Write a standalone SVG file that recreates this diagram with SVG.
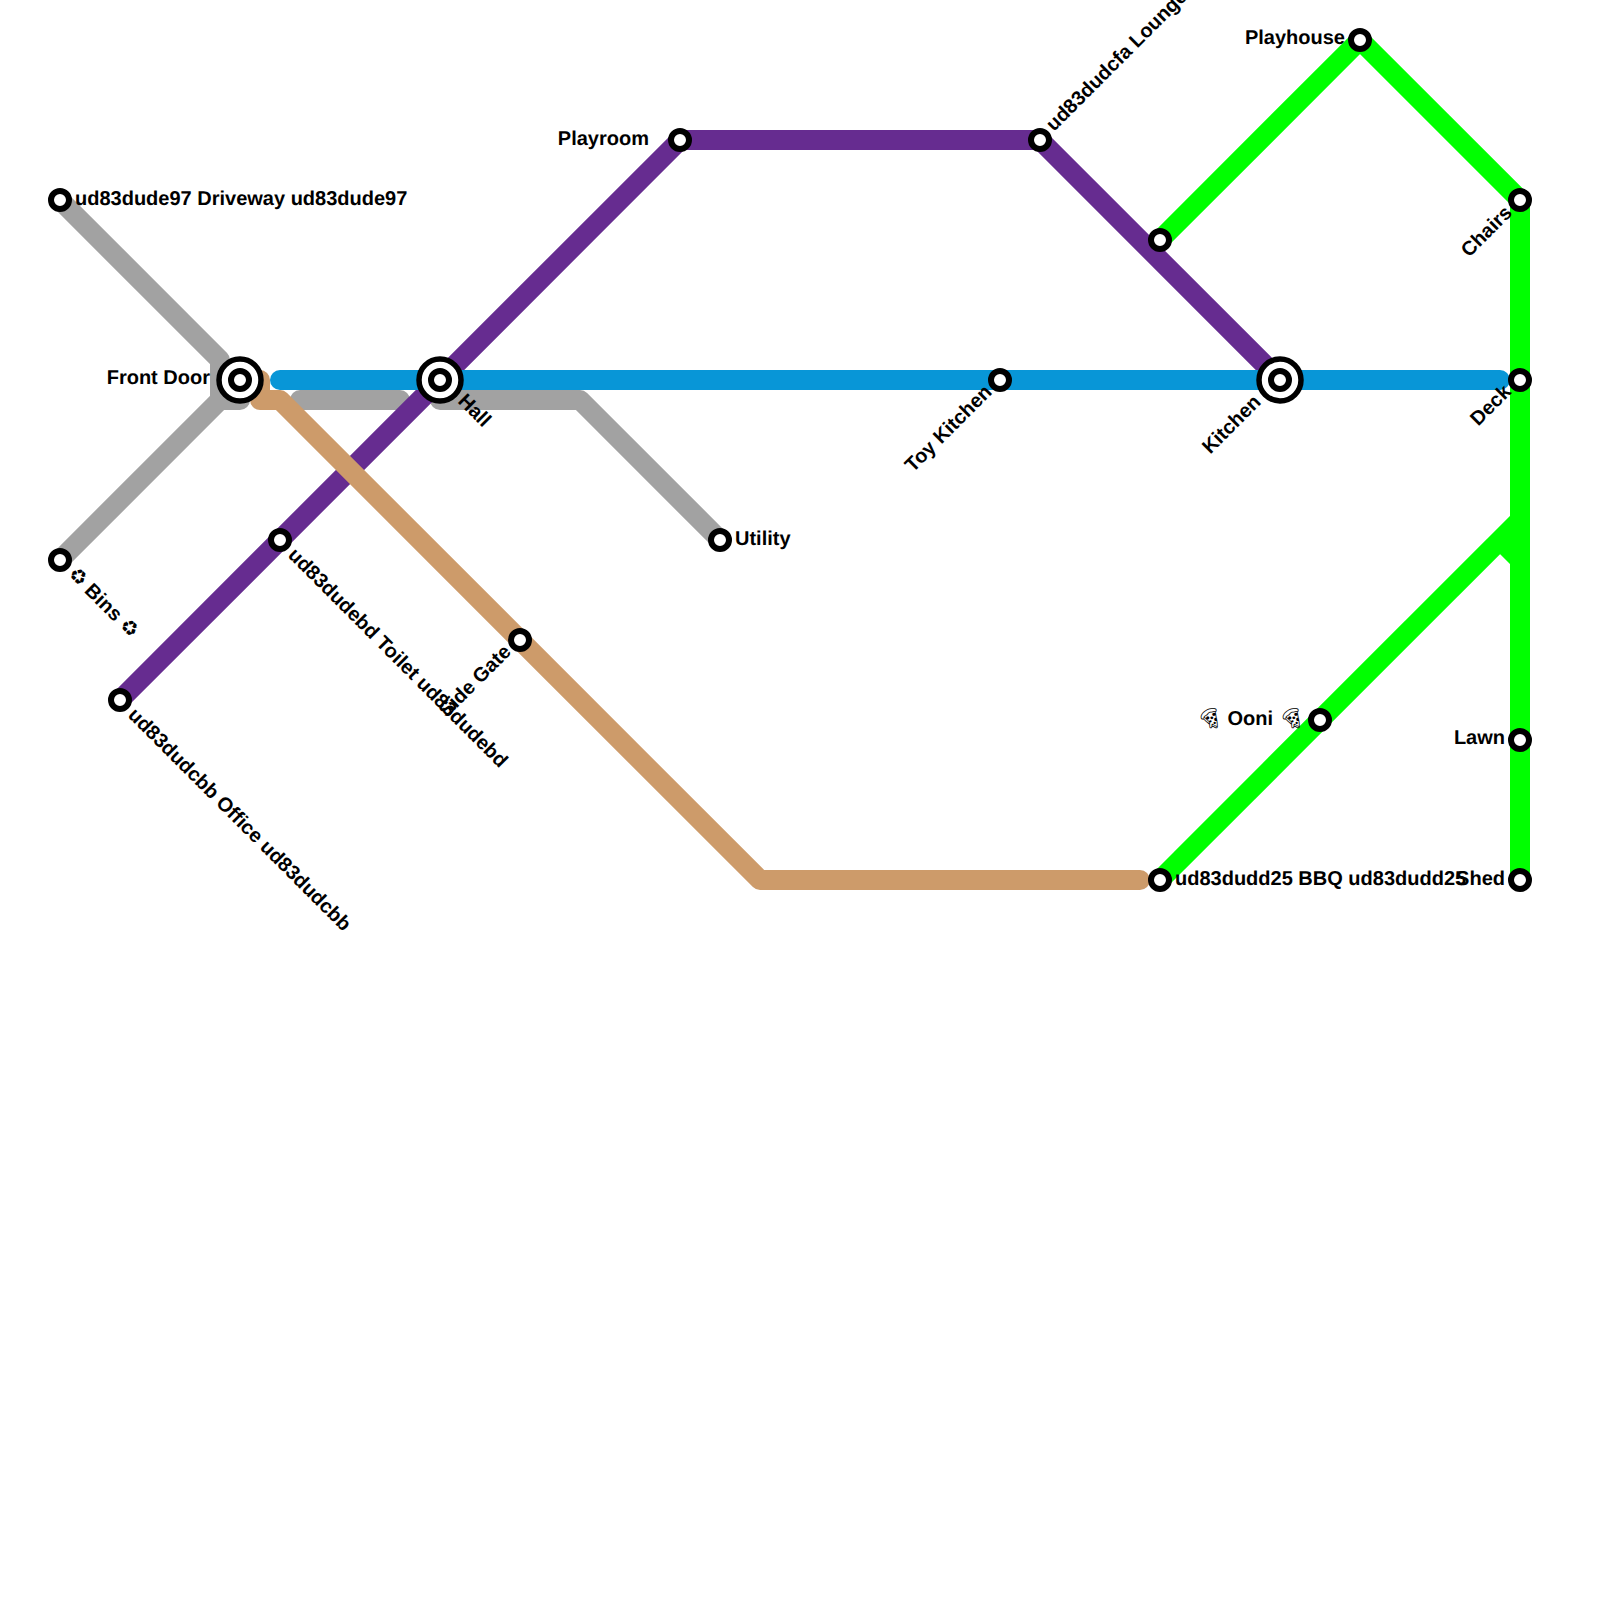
<svg xmlns="http://www.w3.org/2000/svg" width="1600" height="1600" viewBox="0 0 1600 1600">
<style>
.l{fill:none;stroke-width:20;stroke-linecap:round;stroke-linejoin:round}
.gray{stroke:#a2a2a2}.tan{stroke:#cd9b6a}.purple{stroke:#662c90}.blue{stroke:#0896d7}.green{stroke:#00ff00;stroke-linecap:butt}
.s{fill:#fff;stroke:#000;stroke-width:6}
.o{fill:#fff;stroke:#000;stroke-width:5.5}
text{font-family:"Liberation Sans",Arial,sans-serif;font-weight:700;font-size:20px;fill:#000;text-rendering:geometricPrecision}
.e{text-anchor:end}
.m{font-weight:400}
</style>
<rect width="1600" height="1600" fill="#fff"/>
<g id="connectors">
<path class="l gray" d="M60 200L220 360V400L60 560M220 400H240"/>
<path class="l gray" d="M300 400H400"/>
<path class="l gray" d="M440 400H580L720 540"/>
<path class="l purple" d="M120 700L680 140H1040L1280 380"/>
<path class="l tan" d="M260 380V400H280L760 880H1140"/>
<path class="l blue" d="M280 380H1500"/>
<path class="l green" d="M1160 240L1360 40L1520 200V880"/>
<path class="l green" d="M1160 880L1520 520"/>
<path class="l green" d="M1500 540L1520 560"/>
</g>
<g id="driveway"><circle class="s" cx="60" cy="200" r="9"/><text x="75" y="205">ud83dude97 Driveway ud83dude97</text></g>
<g id="bins"><circle class="s" cx="60" cy="560" r="9"/><text transform="translate(67 575) rotate(45)"><tspan class="m">♻︎</tspan> Bins <tspan class="m">♻︎</tspan></text></g>
<g id="frontdoor"><circle class="o" cx="240" cy="380" r="21"/><circle class="s" cx="240" cy="380" r="9"/><text class="e" x="210" y="384">Front Door</text></g>
<g id="hall"><circle class="o" cx="440" cy="380" r="21"/><circle class="s" cx="440" cy="380" r="9"/><text transform="translate(457 402) rotate(45)">Hall</text></g>
<g id="office"><circle class="s" cx="120" cy="700" r="9"/><text transform="translate(127 716) rotate(45)">ud83dudcbb Office ud83dudcbb</text></g>
<g id="toilet"><circle class="s" cx="280" cy="540" r="9"/><text transform="translate(287 556) rotate(45)">ud83dudebd Toilet ud83dudebd</text></g>
<g id="sidegate"><circle class="s" cx="520" cy="640" r="9"/><text class="e" transform="translate(512 653) rotate(-45)">Side Gate</text></g>
<g id="utility"><circle class="s" cx="720" cy="540" r="9"/><text x="735" y="545">Utility</text></g>
<g id="playroom"><circle class="s" cx="680" cy="140" r="9"/><text class="e" x="649" y="145">Playroom</text></g>
<g id="lounge"><circle class="s" cx="1040" cy="140" r="9"/><text transform="translate(1054 132) rotate(-45)">ud83dudcfa Lounge ud83dudcfa</text></g>
<g id="toykitchen"><circle class="s" cx="1000" cy="380" r="9"/><text class="e" transform="translate(993 393) rotate(-45)">Toy Kitchen</text></g>
<g id="station-1160"><circle class="s" cx="1160" cy="240" r="9"/></g>
<g id="kitchen"><circle class="o" cx="1280" cy="380" r="21"/><circle class="s" cx="1280" cy="380" r="9"/><text class="e" transform="translate(1262 403) rotate(-45)">Kitchen</text></g>
<g id="playhouse"><circle class="s" cx="1360" cy="40" r="9"/><text class="e" x="1345" y="44">Playhouse</text></g>
<g id="chairs"><circle class="s" cx="1520" cy="200" r="9"/><text class="e" transform="translate(1513 214) rotate(-45)">Chairs</text></g>
<g id="deck"><circle class="s" cx="1520" cy="380" r="9"/><text class="e" transform="translate(1512 393) rotate(-45)">Deck</text></g>
<g id="ooni"><circle class="s" cx="1320" cy="720" r="9"/><text class="e" x="1304" y="725"><tspan class="m">🍕︎</tspan> Ooni <tspan class="m">🍕︎</tspan></text></g>
<g id="lawn"><circle class="s" cx="1520" cy="740" r="9"/><text class="e" x="1505" y="744">Lawn</text></g>
<g id="shed"><circle class="s" cx="1520" cy="880" r="9"/><text class="e" x="1505" y="885">Shed</text></g>
<g id="bbq"><circle class="s" cx="1160" cy="880" r="9"/><text x="1175" y="885">ud83dudd25 BBQ ud83dudd25</text></g>
</svg>
